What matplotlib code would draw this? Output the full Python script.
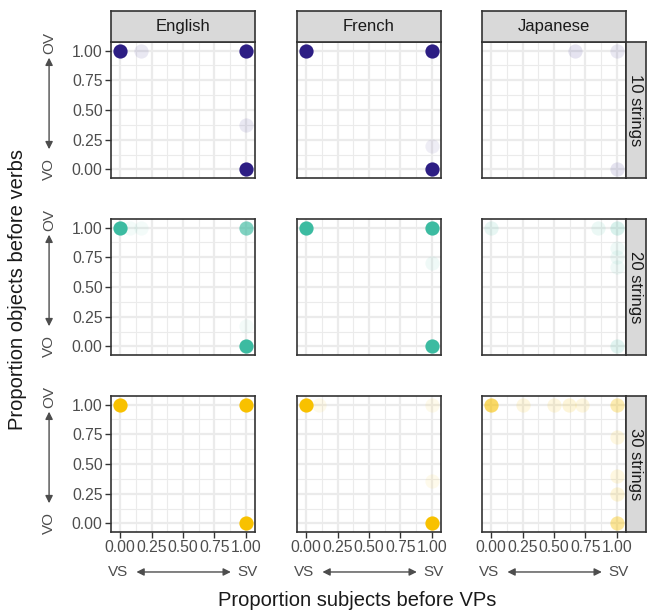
import matplotlib
matplotlib.use("Agg")
import matplotlib.pyplot as plt
from matplotlib.ticker import MultipleLocator

plt.rcParams["font.family"] = ["Liberation Sans", "DejaVu Sans"]

languages = ["English", "French", "Japanese"]
string_counts = ["10 strings", "20 strings", "30 strings"]
row_colors = ["#2D1E84", "#3CBBA1", "#F8C100"]
ticks = [0.0, 0.25, 0.5, 0.75, 1.0]
tick_labels = ["0.00", "0.25", "0.50", "0.75", "1.00"]

# proportion SV (x), proportion OV (y), share of runs ending there
en10_x = [0, 0.17, 1, 1, 1]
en10_y = [1, 1, 1, 0.37, 0]
en10_share = [1, 0.1, 1, 0.1, 1]

fr10_x = [0, 1, 1, 1]
fr10_y = [1, 1, 0.2, 0]
fr10_share = [1, 1, 0.08, 1]

ja10_x = [0.67, 1, 1]
ja10_y = [1, 1, 0]
ja10_share = [0.12, 0.1, 0.12]

en20_x = [0, 0.08, 0.17, 1, 1, 1]
en20_y = [1, 1, 1, 1, 0.17, 0]
en20_share = [1, 0.06, 0.06, 0.65, 0.06, 1]

fr20_x = [0, 1, 1, 1]
fr20_y = [1, 1, 0.7, 0]
fr20_share = [1, 1, 0.08, 1]

ja20_x = [0, 0.85, 1, 1, 1, 1, 1]
ja20_y = [1, 1, 1, 0.83, 0.75, 0.67, 0]
ja20_share = [0.12, 0.1, 0.2, 0.08, 0.08, 0.08, 0.15]

en30_x = [0, 1, 1]
en30_y = [1, 1, 0]
en30_share = [1, 1, 1]

fr30_x = [0, 0.1, 1, 1, 1]
fr30_y = [1, 1, 1, 0.36, 0]
fr30_share = [1, 0.08, 0.08, 0.08, 1]

ja30_x = [0, 0.25, 0.5, 0.62, 0.72, 1, 1, 1, 1, 1]
ja30_y = [1, 1, 1, 1, 1, 1, 0.73, 0.4, 0.25, 0]
ja30_share = [0.6, 0.12, 0.12, 0.15, 0.12, 0.3, 0.12, 0.12, 0.15, 0.4]

panels = [
    [(en10_x, en10_y, en10_share), (fr10_x, fr10_y, fr10_share), (ja10_x, ja10_y, ja10_share)],
    [(en20_x, en20_y, en20_share), (fr20_x, fr20_y, fr20_share), (ja20_x, ja20_y, ja20_share)],
    [(en30_x, en30_y, en30_share), (fr30_x, fr30_y, fr30_share), (ja30_x, ja30_y, ja30_share)],
]

W, H = 649, 613
fig = plt.figure(figsize=(W / 100, H / 100), dpi=100)


def px_box(left, top, width, height):
    return [left / W, 1 - (top + height) / H, width / W, height / H]


col_left = [111, 297, 482]
row_top = [42, 219, 396]
pw, ph = 144, 136
lim = (-0.072, 1.072)
dark = "#333333"
grey_txt = "#4D4D4D"
arrow_kw = dict(arrowstyle="<|-|>", color=grey_txt, lw=1,
                mutation_scale=11, shrinkA=0, shrinkB=0)

for r in range(3):
    for c in range(3):
        ax = fig.add_axes(px_box(col_left[c], row_top[r], pw, ph))
        ax.set_xlim(lim)
        ax.set_ylim(lim)
        ax.xaxis.set_major_locator(MultipleLocator(0.25))
        ax.yaxis.set_major_locator(MultipleLocator(0.25))
        ax.xaxis.set_minor_locator(MultipleLocator(0.125))
        ax.yaxis.set_minor_locator(MultipleLocator(0.125))
        ax.grid(which="major", color="#EBEBEB", lw=1.6)
        ax.grid(which="minor", color="#EBEBEB", lw=0.8)
        ax.set_axisbelow(True)
        ax.tick_params(which="minor", length=0)
        ax.tick_params(which="major", length=4, width=1, color=dark,
                       labelsize=11.3, labelcolor=grey_txt, pad=2)
        for sp in ax.spines.values():
            sp.set_color(dark)
            sp.set_linewidth(1.2)

        xs, ys, share = panels[r][c]
        for x, y, a in zip(xs, ys, share):
            ax.scatter(x, y, s=105, color=row_colors[r], alpha=a,
                       linewidths=0, clip_on=False, zorder=3)

        if c == 0:
            ax.set_yticks(ticks)
            ax.set_yticklabels(tick_labels)
            tr = ax.get_yaxis_transform()
            ax.text(-0.43, 1.06, "OV", transform=tr, rotation=90, fontsize=11,
                    color=grey_txt, ha="center", va="center")
            ax.text(-0.43, 0.0, "VO", transform=tr, rotation=90, fontsize=11,
                    color=grey_txt, ha="center", va="center")
            ax.annotate("", xy=(-0.43, 0.94), xytext=(-0.43, 0.17),
                        xycoords=tr, textcoords=tr, annotation_clip=False,
                        arrowprops=arrow_kw)
        else:
            ax.tick_params(axis="y", left=False, labelleft=False)

        if r == 2:
            ax.set_xticks(ticks)
            ax.set_xticklabels(tick_labels)
            tr = ax.get_xaxis_transform()
            ax.text(-0.015, -0.294, "VS", transform=tr, fontsize=11,
                    color=grey_txt, ha="center", va="center")
            ax.text(1.01, -0.294, "SV", transform=tr, fontsize=11,
                    color=grey_txt, ha="center", va="center")
            ax.annotate("", xy=(0.13, -0.294), xytext=(0.88, -0.294),
                        xycoords=tr, textcoords=tr, annotation_clip=False,
                        arrowprops=arrow_kw)
        else:
            ax.tick_params(axis="x", bottom=False, labelbottom=False)

# facet strips
for c, lang in enumerate(languages):
    sax = fig.add_axes(px_box(col_left[c], 11, pw, 31))
    sax.set_facecolor("#D9D9D9")
    sax.set_xticks([])
    sax.set_yticks([])
    for sp in sax.spines.values():
        sp.set_color(dark)
        sp.set_linewidth(1.2)
    sax.text(0.5, 0.5, lang, transform=sax.transAxes, ha="center",
             va="center", fontsize=12, color="#1A1A1A")

for r, label in enumerate(string_counts):
    sax = fig.add_axes(px_box(col_left[2] + pw, row_top[r], 20, ph))
    sax.set_facecolor("#D9D9D9")
    sax.set_xticks([])
    sax.set_yticks([])
    for sp in sax.spines.values():
        sp.set_color(dark)
        sp.set_linewidth(1.2)
    sax.text(0.5, 0.5, label, transform=sax.transAxes, ha="center",
             va="center", fontsize=12, color="#1A1A1A", rotation=-90)

fig.text(357 / W, 1 - 601 / H, "Proportion subjects before VPs",
         ha="center", va="center", fontsize=14.5, color="#1A1A1A")
fig.text(18 / W, 1 - 289 / H, "Proportion objects before verbs",
         ha="center", va="center", fontsize=14.5, color="#1A1A1A", rotation=90)

fig.savefig("out.png", dpi=100)
